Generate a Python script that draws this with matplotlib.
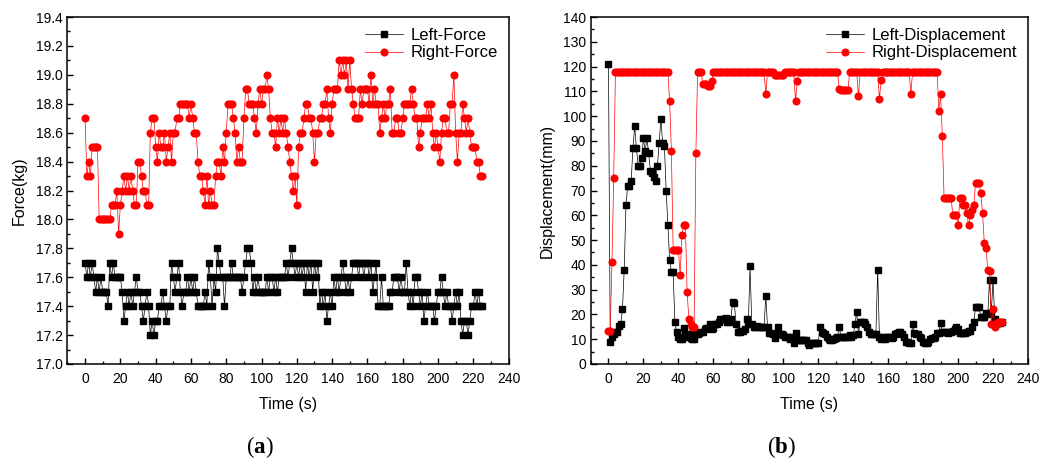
import numpy as np
import matplotlib
matplotlib.use('Agg')
import matplotlib.pyplot as plt
from matplotlib.ticker import MultipleLocator

# Force readings (kg), one sample per second.
left_force = [
  17.7, 17.6, 17.7, 17.6, 17.7, 17.6, 17.5, 17.6, 17.5, 17.6,
  17.5, 17.5, 17.5, 17.4, 17.7, 17.6, 17.7, 17.6, 17.6, 17.6,
  17.6, 17.5, 17.3, 17.4, 17.5, 17.4, 17.5, 17.4, 17.5, 17.6,
  17.5, 17.5, 17.4, 17.3, 17.4, 17.5, 17.4, 17.2, 17.3, 17.2,
  17.3, 17.3, 17.4, 17.4, 17.5, 17.4, 17.3, 17.4, 17.4, 17.7,
  17.6, 17.5, 17.6, 17.7, 17.5, 17.4, 17.5, 17.5, 17.6, 17.5,
  17.6, 17.5, 17.6, 17.5, 17.4, 17.4, 17.4, 17.4, 17.5, 17.4,
  17.7, 17.6, 17.4, 17.6, 17.5, 17.8, 17.7, 17.6, 17.6, 17.4,
  17.6, 17.6, 17.6, 17.7, 17.6, 17.6, 17.6, 17.6, 17.6, 17.5,
  17.6, 17.7, 17.8, 17.8, 17.7, 17.5, 17.6, 17.5, 17.6, 17.5,
  17.5, 17.5, 17.5, 17.6, 17.5, 17.6, 17.6, 17.5, 17.6, 17.5,
  17.6, 17.6, 17.6, 17.6, 17.7, 17.6, 17.7, 17.8, 17.7, 17.6,
  17.7, 17.6, 17.7, 17.6, 17.7, 17.5, 17.7, 17.6, 17.7, 17.5,
  17.7, 17.6, 17.7, 17.4, 17.5, 17.4, 17.5, 17.3, 17.4, 17.5,
  17.4, 17.6, 17.5, 17.6, 17.5, 17.6, 17.7, 17.6, 17.5, 17.6,
  17.5, 17.6, 17.7, 17.7, 17.7, 17.6, 17.7, 17.7, 17.6, 17.7,
  17.7, 17.6, 17.7, 17.5, 17.6, 17.7, 17.4, 17.4, 17.6, 17.4,
  17.4, 17.4, 17.4, 17.5, 17.5, 17.6, 17.6, 17.6, 17.5, 17.6,
  17.5, 17.5, 17.7, 17.5, 17.4, 17.5, 17.4, 17.6, 17.6, 17.5,
  17.4, 17.5, 17.3, 17.4, 17.5, 17.4, 17.4, 17.4, 17.3, 17.4,
  17.5, 17.5, 17.6, 17.5, 17.4, 17.5, 17.4, 17.4, 17.3, 17.4,
  17.5, 17.4, 17.5, 17.3, 17.2, 17.3, 17.3, 17.2, 17.3, 17.4,
  17.4, 17.5, 17.4, 17.5, 17.4, 17.4]

right_force = [
  18.7, 18.3, 18.4, 18.3, 18.5, 18.5, 18.5, 18.5, 18.0, 18.0,
  18.0, 18.0, 18.0, 18.0, 18.0, 18.1, 18.1, 18.1, 18.2, 17.9,
  18.1, 18.2, 18.3, 18.2, 18.3, 18.2, 18.3, 18.2, 18.1, 18.1,
  18.4, 18.4, 18.3, 18.2, 18.2, 18.1, 18.1, 18.6, 18.7, 18.7,
  18.5, 18.4, 18.6, 18.5, 18.5, 18.6, 18.4, 18.5, 18.6, 18.4,
  18.6, 18.6, 18.7, 18.7, 18.8, 18.8, 18.8, 18.8, 18.8, 18.7,
  18.8, 18.7, 18.6, 18.6, 18.4, 18.3, 18.3, 18.2, 18.1, 18.3,
  18.1, 18.2, 18.1, 18.1, 18.3, 18.4, 18.4, 18.3, 18.5, 18.4,
  18.6, 18.8, 18.8, 18.8, 18.7, 18.6, 18.4, 18.5, 18.4, 18.4,
  18.7, 18.9, 18.9, 18.8, 18.8, 18.8, 18.7, 18.6, 18.8, 18.9,
  18.8, 18.9, 18.9, 19.0, 18.9, 18.7, 18.6, 18.6, 18.5, 18.7,
  18.6, 18.7, 18.6, 18.7, 18.6, 18.5, 18.4, 18.3, 18.2, 18.3,
  18.1, 18.5, 18.6, 18.6, 18.7, 18.8, 18.8, 18.7, 18.7, 18.6,
  18.4, 18.6, 18.6, 18.7, 18.7, 18.8, 18.8, 18.9, 18.7, 18.6,
  18.8, 18.9, 18.9, 18.9, 19.1, 19.0, 19.1, 19.0, 19.1, 18.9,
  19.1, 18.9, 18.8, 18.7, 18.7, 18.7, 18.9, 18.8, 18.9, 18.9,
  18.9, 18.8, 19.0, 18.8, 18.9, 18.8, 18.8, 18.6, 18.7, 18.8,
  18.7, 18.8, 18.8, 18.9, 18.6, 18.6, 18.7, 18.7, 18.6, 18.6,
  18.7, 18.8, 18.8, 18.8, 18.8, 18.9, 18.8, 18.7, 18.7, 18.5,
  18.6, 18.7, 18.7, 18.7, 18.8, 18.7, 18.8, 18.6, 18.5, 18.6,
  18.5, 18.4, 18.6, 18.7, 18.7, 18.6, 18.6, 18.8, 18.8, 19.0,
  18.6, 18.4, 18.6, 18.6, 18.8, 18.7, 18.6, 18.7, 18.6, 18.5,
  18.5, 18.5, 18.4, 18.4, 18.3, 18.3]

# Displacement readings (mm), one sample per second.
left_disp = [
  121, 9, 11, 12, 13, 13, 15.5, 16, 22, 38,
  64, 72, 72, 74, 87, 96, 87, 80, 80, 83,
  91, 86, 91, 85, 78, 77, 75.5, 74, 80, 89,
  99, 89, 88, 70, 56, 42, 37, 37, 17, 13,
  11, 10, 10, 14.5, 12, 11, 12, 10.5, 10, 10,
  12, 12, 12.5, 13, 13, 14, 14.5, 14.5, 16, 14,
  14.5, 16, 16, 17, 18, 18, 18, 18.5, 17, 17,
  18, 25, 24.5, 16, 13, 13, 13.5, 13.5, 14, 18,
  16, 39.5, 16, 15, 15, 15.5, 15, 15, 15, 15,
  27.5, 15, 12.5, 12.5, 12, 10.5, 12, 15, 12, 12,
  11.5, 11, 11, 11, 10, 11, 8.5, 12.5, 9.5, 9.5,
  9.5, 9.5, 9.5, 9.5, 8.5, 7.6, 8.3, 8.3, 8.5, 8.3,
  8.3, 15, 13, 12.5, 12, 11, 10, 9.7, 9.7, 10,
  10.5, 11, 15, 11, 11, 11, 11, 11, 11.5, 11,
  11.5, 16, 21, 12, 17, 17, 17, 16, 15, 13,
  12, 12, 12, 12, 38, 11, 10, 11, 10, 11,
  11, 11, 10.5, 11, 12, 12.5, 13, 13, 12, 11,
  9, 9, 8.5, 8.6, 16, 12.5, 12, 12, 11, 10.5,
  9, 8.3, 8.5, 9, 10, 10.5, 10.5, 11, 12.5, 12.5,
  16.5, 13, 13, 13, 12.5, 13, 13, 13.5, 14, 15,
  14, 12.5, 12.5, 12.5, 12.5, 13, 13.5, 13.5, 15, 17,
  23, 23, 23, 19, 19, 19, 20.5, 20, 34, 20.5,
  34, 18, 16.5, 16.5, 16.5, 17]

right_disp = [
  13.5, 13.5, 41, 75, 118, 118, 118, 118, 118, 118,
  118, 118, 118, 118, 118, 118, 118, 118, 118, 118,
  118, 118, 118, 118, 118, 118, 118, 118, 118, 118,
  118, 118, 118, 118, 118, 106, 86, 46, 46, 46,
  46, 36, 52, 56, 56, 29, 18, 16, 15, 15,
  85, 118, 118, 118, 113, 113, 113, 112, 112, 114,
  118, 118, 118, 118, 118, 118, 118, 118, 118, 118,
  118, 118, 118, 118, 118, 118, 118, 118, 118, 118,
  118, 118, 118, 118, 118, 118, 118, 118, 118, 118,
  109, 118, 118, 118, 118, 116.5, 116.5, 116.5, 116.5, 116.5,
  116.5, 118, 118, 118, 118, 118, 118, 106, 114, 118,
  118, 118, 118, 118, 118, 118, 118, 118, 118, 118,
  118, 118, 118, 118, 118, 118, 118, 118, 118, 118,
  118, 118, 111, 110.5, 110.5, 110.5, 110.5, 110.5, 118, 118,
  118, 118, 118, 108, 118, 118, 118, 118, 118, 118,
  118, 118, 118, 118, 118, 107, 114.5, 118, 118, 118,
  118, 118, 118, 118, 118, 118, 118, 118, 118, 118,
  118, 118, 118, 109, 118, 118, 118, 118, 118, 118,
  118, 118, 118, 118, 118, 118, 118, 118, 118, 102,
  109, 92, 67, 67, 67, 67, 67, 60, 60, 60,
  56, 67, 67, 64, 64, 61, 56, 60, 62, 64,
  73, 73, 73, 69, 61, 49, 47, 38, 37.5, 16,
  22, 15, 16, 17, 17, 17]

plt.rcParams['font.family'] = ['Liberation Sans', 'DejaVu Sans']
plt.rcParams['mathtext.fontset'] = 'custom'
plt.rcParams['mathtext.rm'] = 'Liberation Serif'
plt.rcParams['mathtext.bf'] = 'Liberation Serif:bold'


def StylePanel(ax, yMajor, yMinor):
  ax.set_xlim(-10, 240)
  ax.xaxis.set_major_locator(MultipleLocator(20))
  ax.xaxis.set_minor_locator(MultipleLocator(10))
  ax.yaxis.set_major_locator(MultipleLocator(yMajor))
  ax.yaxis.set_minor_locator(MultipleLocator(yMinor))
  ax.tick_params(which='both', direction='in', labelsize=10, width=1)
  ax.tick_params(which='major', length=4.5)
  ax.tick_params(which='minor', length=2.3)
  ax.tick_params(axis='x', pad=6)
  for s in ax.spines.values():
    s.set_linewidth(1.1)
  ax.set_xlabel('Time (s)', fontsize=11.5, labelpad=8)
  ax.legend(loc='upper right', frameon=False, fontsize=12,
      handlelength=2.3, handletextpad=0.45, borderaxespad=0.25,
      labelspacing=0.15)


fig = plt.figure(figsize=(10.39, 4.66), dpi=100)

# Panel (a): force.
ax1 = fig.add_axes([0.0649, 0.2189, 0.4246, 0.7446])
ax1.plot(np.arange(len(left_force)), left_force, color='black', lw=0.5,
    marker='s', ms=4.3, label='Left-Force')
ax1.plot(np.arange(len(right_force)), right_force, color='#FF0000', lw=0.5,
    marker='o', ms=4.8, label='Right-Force')
ax1.set_ylim(17.0, 19.4)
ax1.set_ylabel('Force(kg)', fontsize=11.5, labelpad=6)
StylePanel(ax1, 0.2, 0.1)
ax1.yaxis.set_major_formatter(matplotlib.ticker.FormatStrFormatter('%.1f'))

# Panel (b): displacement.
ax2 = fig.add_axes([0.5688, 0.2189, 0.4206, 0.7446])
ax2.plot(np.arange(len(left_disp)), left_disp, color='black', lw=0.5,
    marker='s', ms=4.3, label='Left-Displacement')
ax2.plot(np.arange(len(right_disp)), right_disp, color='#FF0000', lw=0.5,
    marker='o', ms=4.8, label='Right-Displacement')
ax2.set_ylim(0, 140)
ax2.set_ylabel('Displacement(mm)', fontsize=11.5, labelpad=6)
StylePanel(ax2, 10, 5)

fig.text(0.2500, 0.040, r'($\mathbf{a}$)', fontsize=16.5, ha='center',
    va='center', family='Liberation Serif')
fig.text(0.7525, 0.040, r'($\mathbf{b}$)', fontsize=16.5, ha='center',
    va='center', family='Liberation Serif')

fig.savefig('out.png', dpi=100)
